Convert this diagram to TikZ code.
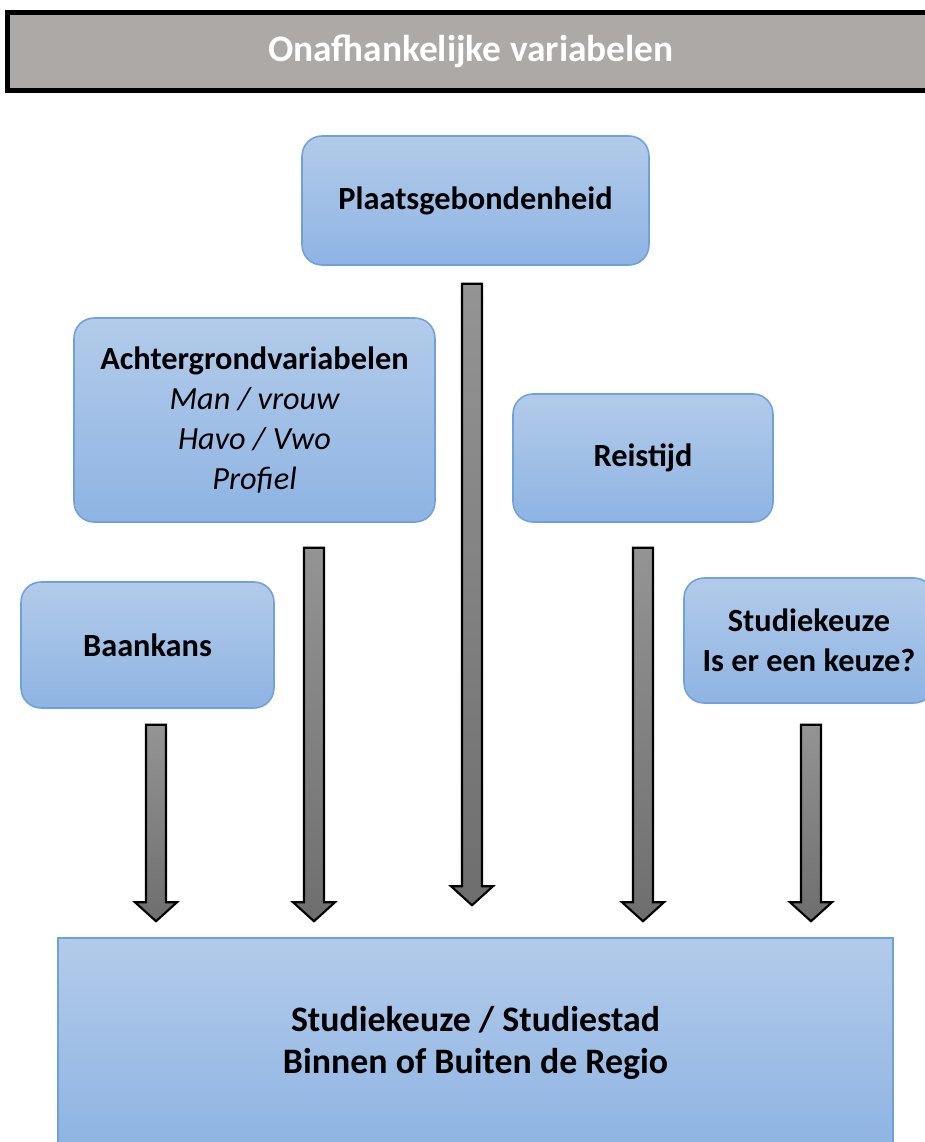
\documentclass[tikz,border=0pt]{standalone}
\usepackage{fontspec}
\setmainfont{Carlito}
\usetikzlibrary{calc}
\definecolor{boxtop}{HTML}{B3CBEA}
\definecolor{boxbottom}{HTML}{8EB4E3}
\definecolor{boxline}{HTML}{6FA2DA}
\definecolor{headgray}{HTML}{ADA9A7}
\definecolor{arrowtop}{HTML}{949494}
\definecolor{arrowbottom}{HTML}{6E6E6E}
\newcommand{\blockarrow}[2]{%
	\draw[arrowbody] let \p1=(#1), \p2=(#2) in
		(\x1-0.2cm,\y1) -- (\x1+0.2cm,\y1) -- (\x1+0.2cm,\y2+0.38cm) -- (\x1+0.42cm,\y2+0.38cm)
		-- (\x1,\y2) -- (\x1-0.42cm,\y2+0.38cm) -- (\x1-0.2cm,\y2+0.38cm) -- cycle;}
\begin{document}
\begin{tikzpicture}
			[x=0.02cm,y=-0.02cm,
			varnode/.style={rectangle,rounded corners=0.4cm,draw=boxline,line width=0.9pt,
				top color=boxtop,bottom color=boxbottom,align=center,
				font=\fontsize{18.4}{22.8}\selectfont\bfseries},
			headnode/.style={rectangle,draw=black,line width=0.1cm,fill=headgray,text=white,
				font=\fontsize{21.3}{25}\selectfont\bfseries},
			arrowbody/.style={draw=black,line width=1.2pt,top color=arrowtop,bottom color=arrowbottom},]
		\clip (0,0) rectangle (925,1142);
		\node[headnode,name=kop,minimum width=18.55cm,minimum height=1.56cm] at (471,51.5) {Onafhankelijke variabelen};
		\node[varnode,name=plaats,minimum width=6.94cm,minimum height=2.58cm] at (475.5,200.5) {Plaatsgebondenheid};
		\node[varnode,name=achter,minimum width=7.22cm,minimum height=4.08cm] at (254.5,420)
			{Achtergrondvariabelen\\\mdseries\itshape Man / vrouw\\\mdseries\itshape Havo / Vwo\\\mdseries\itshape Profiel};
		\node[varnode,name=reis,minimum width=5.2cm,minimum height=2.56cm] at (643,458) {Reistijd};
		\node[varnode,name=baan,minimum width=5.06cm,minimum height=2.52cm] at (147.5,645) {Baankans};
		\node[varnode,name=keuze,minimum width=5cm,minimum height=2.5cm] at (809,640.5) {Studiekeuze\\Is er een keuze?};
		\node[varnode,name=doel,rounded corners=0pt,minimum width=16.7cm,minimum height=4.2cm,
			font=\fontsize{20.4}{23.4}\selectfont\bfseries] at (475.5,1043)
			{Studiekeuze / Studiestad\\Binnen of Buiten de Regio};
		\blockarrow{[yshift=-0.32cm]156,0 |- baan.south}{[yshift=0.32cm]156,0 |- doel.north}
		\blockarrow{[yshift=-0.5cm]314,0 |- achter.south}{[yshift=0.32cm]314,0 |- doel.north}
		\blockarrow{[yshift=-0.36cm]472,0 |- plaats.south}{[yshift=0.64cm]472,0 |- doel.north}
		\blockarrow{[yshift=-0.5cm]643,0 |- reis.south}{[yshift=0.32cm]643,0 |- doel.north}
		\blockarrow{[yshift=-0.42cm]811,0 |- keuze.south}{[yshift=0.32cm]811,0 |- doel.north}
		\end{tikzpicture}
\end{document}
